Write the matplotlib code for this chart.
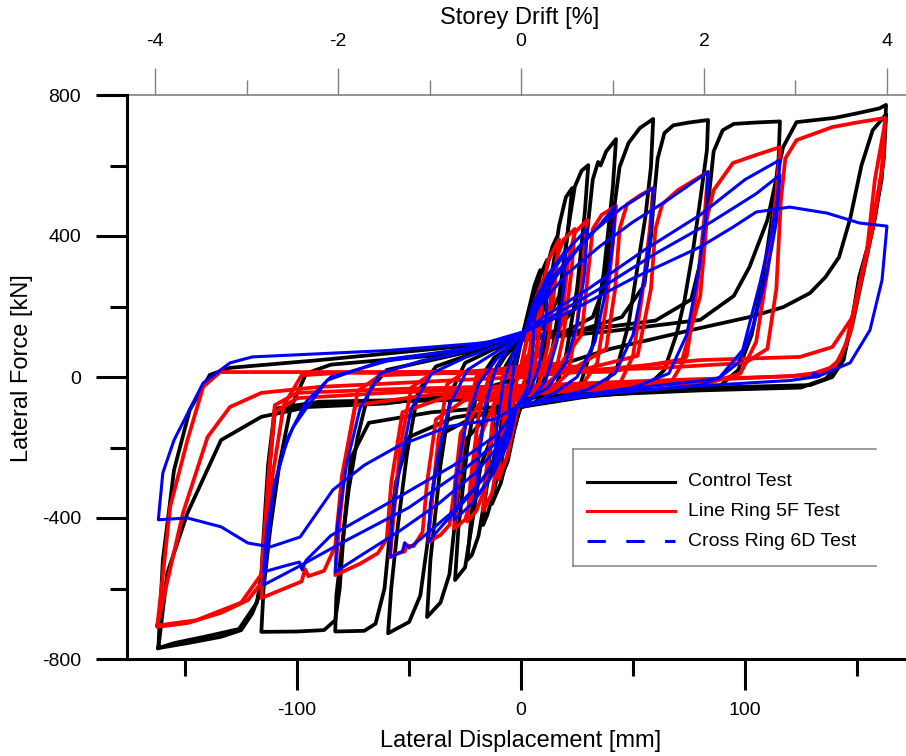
import matplotlib.pyplot as plt
from matplotlib.lines import Line2D
from matplotlib.ticker import FixedLocator

plt.rcParams['font.family'] = ['Liberation Sans', 'DejaVu Sans']
plt.rcParams['axes.unicode_minus'] = False

# hysteresis loops: (displacement mm, force kN)
# Control Test
ctrl_08 = [(0,100),(3,180),(6,260),(8.5,303),(7,200),(5,80),(2,-20),(0,-70),(-3,-150),(-6,-240),(-9.4,-292),(-8,-200),(-5,-60),(-2,40),(0,100)]
ctrl_12 = [(0,100),(4,200),(8,280),(11.6,332),(10,220),(7,80),(4,-30),(0,-80),(-4,-170),(-9,-300),(-13,-360),(-11,-240),(-8,-90),(-4,30),(0,100)]
ctrl_16 = [(0,105),(6,170),(11,300),(14,370),(16,397),(14.5,280),(11,100),(7,-30),(0,-85),(-7,-180),(-12,-320),(-15,-390),(-17,-420),(-15.5,-300),(-12,-110),(-7,30),(0,105)]
ctrl_23 = [(0,105),(8,150),(13,260),(17,430),(20,510),(22.8,536),(21,420),(17,200),(13,40),(8,-45),(0,-85),(-9,-150),(-15,-300),(-19,-450),(-22,-505),(-24,-519),(-22,-380),(-18,-180),(-13,0),(-7,60),(0,105)]
ctrl_30 = [(0,105),(10,140),(17,230),(21,420),(24,540),(27,585),(30,601),(28.5,470),(25,250),(20,60),(15,-40),(5,-75),(0,-85),(-10,-120),(-18,-250),(-22,-420),(-25,-540),(-29.5,-576),(-28,-430),(-24,-200),(-19,-10),(-12,55),(0,105)]
ctrl_42 = [(0,105),(15,130),(25,200),(29,380),(32,560),(34.4,610),(35.5,600),(38,640),(42.4,675),(41,540),(37,300),(32,90),(26,-30),(15,-65),(0,-85),(-15,-110),(-25,-180),(-29,-380),(-32,-560),(-36,-640),(-42,-681),(-40.5,-520),(-36,-250),(-31,-40),(-25,40),(-12,80),(0,105)]
ctrl_59 = [(0,105),(20,130),(32,170),(37,255),(40,390),(42,500),(44,596),(48,664),(53,706),(59,732),(58,596),(55.5,454),(52,312),(48,150),(43,30),(35,-35),(15,-60),(0,-85),(-20,-110),(-35,-160),(-39,-300),(-42,-480),(-45,-620),(-50,-695),(-59.4,-727),(-58,-600),(-55,-420),(-51,-220),(-46,-40),(-38,30),(-20,70),(0,105)]
ctrl_83 = [(0,105),(25,130),(45,170),(55,260),(58,400),(59.5,520),(61,620),(64,692),(68,714),(75,722),(83.5,729),(83,644),(80,502),(76.8,360),(73,218),(69.6,125),(64,20),(55,-35),(30,-55),(0,-85),(-30,-115),(-50,-170),(-56,-300),(-59,-470),(-61,-600),(-65,-700),(-70,-720),(-83,-722),(-82.5,-620),(-80,-480),(-77,-320),(-73,-170),(-68,-40),(-60,20),(-35,55),(0,105)]
ctrl_116 = [(0,105),(30,135),(60,160),(76,220),(81,350),(84,520),(86,640),(90,700),(95,718),(105,722),(115.6,725),(115,620),(112,450),(108,280),(103,120),(97,20),(88,-30),(60,-40),(20,-60),(0,-80),(-40,-100),(-68,-130),(-76,-230),(-79,-420),(-81,-600),(-83,-690),(-88,-718),(-100,-722),(-116,-723),(-115,-600),(-112,-430),(-108,-250),(-103,-90),(-96,10),(-85,35),(-40,60),(0,105)]
ctrl_163a = [(0,105),(40,130),(80,162),(95,230),(102,312),(110,445),(117,652),(123,723),(140,735),(150,748),(160,762),(163,772),(162.5,700),(161,560),(157,420),(151,284),(148,170),(144,48),(139,0),(129,-23),(80,-31),(30,-45),(0,-60),(-50,-65),(-90,-70),(-110,-90),(-113,-250),(-115,-450),(-116.5,-613),(-120,-670),(-125,-718),(-134,-737),(-149,-755),(-162,-769),(-160,-520),(-155,-264),(-148,-94),(-139,6),(-130,26),(-90,48),(-30,85),(0,105)]
ctrl_163b = [(-162,-769),(-158,-556),(-149,-386),(-134,-179),(-116,-113),(-95,-85),(-60,-75),(-20,-40),(0,0),(40,80),(80,139),(102,170),(117,198),(129,238),(136,284),(142,340),(147,450),(152,600),(157,700),(163,745),(162,620),(158,450),(153,300),(148,150),(143,40),(136,-5),(125,-30),(80,-38),(0,-60),(-90,-75),(-110,-100),(-113,-300),(-115,-520),(-118,-640),(-126,-715),(-140,-735),(-155,-755),(-162,-769)]

# Line Ring 5F Test
ring5_05 = [(0,30),(2,90),(4,140),(5.5,170),(4,80),(2,0),(0,-40),(-2,-100),(-4,-150),(-5.5,-175),(-4,-90),(-2,-10),(0,30)]
ring5_10 = [(0,30),(3,120),(6,210),(10,280),(8.5,150),(6,30),(3,-30),(0,-50),(-3,-130),(-6,-220),(-10,-290),(-8.5,-160),(-6,-40),(-3,10),(0,30)]
ring5_17 = [(0,30),(5,80),(9,220),(12,330),(17,390),(15,260),(12,90),(8,-20),(0,-50),(-6,-90),(-10,-230),(-13,-330),(-17,-380),(-15,-260),(-12,-80),(-7,15),(0,30)]
ring5_24 = [(0,30),(8,60),(13,200),(16,340),(19,390),(24,420),(22.5,300),(19,120),(15,0),(8,-35),(0,-55),(-8,-80),(-14,-200),(-17,-330),(-20,-380),(-24,-410),(-22.5,-290),(-19,-110),(-14,10),(-7,25),(0,30)]
ring5_30 = [(0,30),(12,45),(18,150),(21,330),(24,410),(29.5,445),(28,330),(25,150),(21,10),(14,-30),(0,-55),(-12,-75),(-19,-180),(-22,-340),(-25,-405),(-30,-430),(-28.5,-320),(-25,-140),(-20,0),(-12,20),(0,30)]
ring5_42 = [(0,25),(18,40),(27,120),(30,300),(32,420),(36,460),(42.4,485),(41,380),(38,200),(34,40),(27,-25),(10,-45),(0,-55),(-18,-70),(-27,-160),(-30,-330),(-32,-420),(-36,-448),(-41.5,-468),(-40,-360),(-37,-180),(-33,-20),(-25,15),(-10,22),(0,25)]
ring5_59 = [(0,20),(25,30),(38,80),(42,250),(44,420),(47.3,490),(53,515),(59,536),(57.5,420),(54,230),(50,60),(44,-20),(20,-40),(0,-50),(-25,-65),(-38,-120),(-42,-300),(-44,-440),(-48,-480),(-51,-478),(-52,-495),(-55,-500),(-58.5,-511),(-57,-400),(-54,-200),(-49,-30),(-40,10),(-20,15),(0,20)]
ring5_83 = [(0,15),(30,25),(52,60),(58,250),(60,420),(63,490),(70,530),(83.5,582),(82,460),(78.5,250),(74,60),(67,-15),(40,-35),(0,-45),(-35,-60),(-53,-100),(-58,-300),(-60,-460),(-64,-500),(-72,-530),(-83,-562),(-81.5,-440),(-78,-220),(-73,-40),(-63,5),(-30,12),(0,15)]
ring5_116 = [(0,10),(40,15),(72,50),(80,230),(83,450),(86,530),(94.6,607),(105,630),(115.6,652),(114,520),(110,300),(105,100),(98,10),(85,-15),(40,-30),(0,-40),(-40,-50),(-74,-80),(-80,-280),(-83,-480),(-88,-550),(-95,-565),(-96.5,-545),(-98,-580),(-116,-627),(-114.5,-500),(-111,-280),(-106,-80),(-98,5),(-80,12),(0,10)]
ring5_163a = [(0,15),(60,25),(100,40),(110,80),(114,250),(116,500),(118,620),(123,672),(139,709),(150,722),(162.5,735),(161.5,600),(157,420),(152,280),(147,125),(142,48),(136,15),(120,2),(60,-10),(0,-25),(-60,-35),(-100,-45),(-110,-80),(-113,-300),(-115,-576),(-122,-633),(-134,-669),(-149,-698),(-162.5,-709),(-156.7,-368),(-149,-179),(-142,-28),(-134.4,14),(-90,14),(0,15)]
ring5_163b = [(-162.5,-705),(-151,-386),(-140,-170),(-130,-85),(-116,-45),(-90,-28),(0,0),(80,48),(124.6,57),(139,85),(148,170),(154.5,360),(158,560),(162.5,720),(161,580),(156,400),(150,230),(145,90),(140,30),(128,5),(60,-15),(0,-30),(-60,-45),(-100,-60),(-110,-100),(-113,-300),(-116,-560),(-125,-640),(-145,-690),(-162.5,-705)]

# Cross Ring 6D Test
cross_06 = [(2,130),(4,160),(6,180),(5,60),(3,-30),(-2,-85),(-4,-140),(-6,-170),(-5,-60),(-3,40),(2,130)]
cross_12 = [(2,130),(5,200),(8,240),(12,270),(11,160),(8,30),(4,-40),(-2,-85),(-5,-170),(-8,-220),(-12,-260),(-11,-150),(-8,-20),(-4,60),(2,130)]
cross_20 = [(2,130),(6,210),(12,290),(20,360),(19,250),(16,100),(11,-10),(5,-60),(-2,-85),(-6,-180),(-12,-270),(-20,-340),(-19,-230),(-16,-80),(-11,30),(-5,90),(2,130)]
cross_30 = [(2,130),(6,200),(14,300),(22,370),(29.5,420),(28.5,300),(25,150),(20,40),(12,-30),(-2,-85),(-6,-180),(-14,-290),(-22,-360),(-30,-406),(-29,-290),(-25,-140),(-19,-20),(-11,50),(2,130)]
cross_42 = [(2,130),(6,190),(15,280),(25,360),(35,430),(42,485),(41,380),(38,250),(33,100),(25,0),(15,-45),(5,-75),(-2,-85),(-6,-170),(-15,-270),(-25,-350),(-35,-420),(-41.5,-468),(-40.5,-360),(-37,-220),(-32,-80),(-24,20),(-14,60),(-5,95),(2,130)]
cross_59 = [(2,130),(6,200),(15,290),(30,400),(45,480),(59,536),(58,420),(55,280),(50,120),(42,10),(30,-35),(12,-65),(-2,-85),(-7,-180),(-17,-290),(-32,-390),(-45,-460),(-50,-485),(-52,-470),(-53,-495),(-58.5,-511),(-57.5,-400),(-54,-250),(-49,-90),(-40,10),(-25,55),(-10,90),(2,130)]
cross_83 = [(2,130),(8,200),(20,290),(35,370),(50,440),(65,500),(83.5,582),(82.5,450),(79,290),(74,120),(66,10),(50,-30),(20,-60),(-2,-85),(-8,-180),(-20,-270),(-37,-360),(-55,-440),(-70,-500),(-83,-553),(-82,-420),(-78,-250),(-72,-90),(-63,10),(-45,45),(-20,80),(2,130)]
cross_116a = [(2,130),(10,170),(30,250),(55,360),(80,460),(100,560),(115.6,616),(114.5,500),(112,420),(110,360),(106.7,267),(99,77),(88.8,0),(80,-23),(40,-45),(10,-70),(-2,-85),(-8,-170),(-25,-260),(-50,-370),(-80,-470),(-100,-540),(-115,-590),(-113,-462),(-110.7,-320),(-106,-207),(-101.8,-142),(-95.5,-85),(-86.6,-9),(-60,50),(-30,75),(-8,105),(2,130)]
cross_116b = [(2,130),(12,165),(35,250),(60,350),(85,440),(105,520),(115.6,573),(114,440),(110,300),(104,150),(97,40),(88,-5),(60,-25),(20,-55),(-2,-85),(-10,-160),(-30,-250),(-60,-360),(-85,-450),(-96,-520),(-97.8,-547),(-99,-525),(-105,-535),(-115,-553),(-113.5,-430),(-110,-300),(-104,-170),(-96,-70),(-85,0),(-60,45),(-25,80),(2,130)]
cross_163 = [(2,130),(20,180),(50,280),(80,369),(94.6,425),(105,468),(120,482),(136.6,465),(151,437),(163.4,428),(161.2,275),(155.8,133),(146.9,40),(132,0),(130,8),(131.5,10),(133,2),(120,-10),(80,-25),(40,-45),(10,-70),(-2,-85),(-12,-120),(-32,-140),(-54,-193),(-70,-250),(-84,-320),(-98.7,-454),(-112,-482),(-122,-471),(-134,-425),(-149,-400),(-162,-405),(-160,-272),(-155,-179),(-142,-17),(-130,40),(-120,57),(-60,75),(-20,95),(-8,105),(2,130)]

control_loops = [ctrl_08, ctrl_12, ctrl_16, ctrl_23, ctrl_30, ctrl_42, ctrl_59, ctrl_83, ctrl_116, ctrl_163a, ctrl_163b]
ring5_loops = [ring5_05, ring5_10, ring5_17, ring5_24, ring5_30, ring5_42, ring5_59, ring5_83, ring5_116, ring5_163a, ring5_163b]
cross_loops = [cross_06, cross_12, cross_20, cross_30, cross_42, cross_59, cross_83, cross_116a, cross_116b, cross_163]

series_names = ['Control Test', 'Line Ring 5F Test', 'Cross Ring 6D Test']

drift_ticks = [-4, -2, 0, 2, 4]
drift_minor = [-3, -1, 1, 3]
mm_per_pct = 40.85

W, H = 906, 756
fig = plt.figure(figsize=(W / 100, H / 100), dpi=100)
ax = fig.add_axes([127 / W, 1 - 659 / H, 779 / W, 564 / H])

for loop in control_loops:
    x, f = zip(*loop)
    ax.plot(x, f, color='black', lw=2.7, solid_joinstyle='round')
for loop in ring5_loops:
    x, f = zip(*loop)
    ax.plot(x, f, color='red', lw=2.7, solid_joinstyle='round')
for loop in cross_loops:
    x, f = zip(*loop)
    ax.plot(x, f, color='blue', lw=2.2, solid_joinstyle='round')

ax.set_xlim(-176, 171.9)
ax.set_ylim(-800, 800)
ax.set_xticks([-100, 0, 100])
ax.set_xticks([-150, -50, 50, 150], minor=True)
ax.set_yticks([-800, -400, 0, 400, 800])
ax.set_yticks([-600, -200, 200, 600], minor=True)
ax.tick_params(which='major', length=22, width=2.2, labelsize=14, direction='out')
ax.tick_params(which='minor', length=12, width=2.2, direction='out')
ax.tick_params(axis='x', pad=9)
ax.tick_params(axis='y', pad=11)
ax.spines['left'].set_linewidth(2.2)
ax.spines['bottom'].set_linewidth(2.2)
ax.spines['right'].set_visible(False)
ax.spines['top'].set_visible(False)

secax = ax.secondary_xaxis('top', functions=(lambda x: x / mm_per_pct, lambda d: d * mm_per_pct))
secax.set_xticks(drift_ticks)
secax.set_xticklabels([str(t) for t in drift_ticks])
secax.xaxis.set_minor_locator(FixedLocator(drift_minor))
secax.tick_params(which='major', length=19.5, width=1, color='gray', labelsize=14, pad=13)
secax.tick_params(which='minor', length=11, width=1, color='gray')
secax.spines['top'].set_color('gray')
secax.spines['top'].set_linewidth(1.2)

fig.text(520 / W, 1 - 18 / H, 'Storey Drift [%]', fontsize=17, ha='center', va='center')
fig.text(521 / W, 1 - 741 / H, 'Lateral Displacement [mm]', fontsize=17, ha='center', va='center')
fig.text(22 / W, 1 - 368 / H, 'Lateral Force [kN]', fontsize=17, ha='center', va='center', rotation=90)

# legend box (open on the right, as in the figure)
gray = '#808080'
for xs, ys in [([573, 573], [449, 566]), ([573, 876], [449, 449]), ([573, 876], [566, 566])]:
    fig.add_artist(Line2D([v / W for v in xs], [1 - v / H for v in ys], transform=fig.transFigure,
                          color=gray, lw=1.1))
styles = [dict(color='black', ls='-'), dict(color='red', ls='-'), dict(color='blue', ls=(0, (6, 6.7)))]
for name, st, yrow in zip(series_names, styles, [482, 511, 541]):
    fig.add_artist(Line2D([587 / W, 675 / W], [1 - yrow / H] * 2, transform=fig.transFigure,
                          lw=2.2, **st))
    fig.text(688 / W, 1 - yrow / H, name, fontsize=14, ha='left', va='center')

fig.savefig('out.png', dpi=100)
